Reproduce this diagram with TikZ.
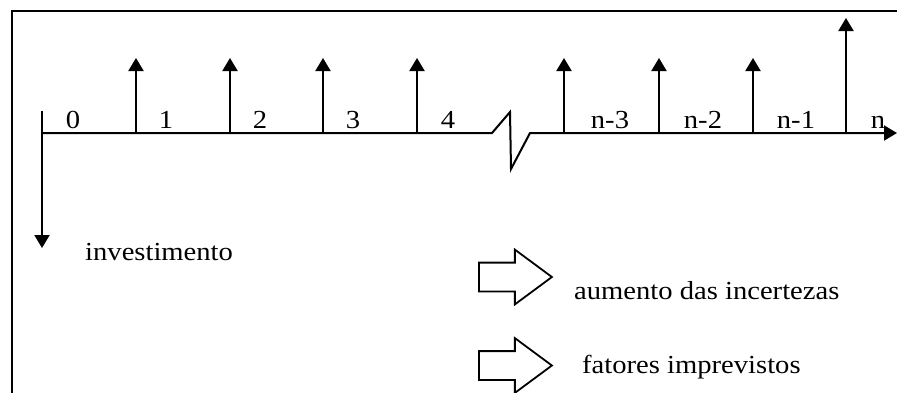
\documentclass[tikz,border=0pt]{standalone}
\usepackage{fontspec}
\setmainfont{Liberation Serif}[FakeStretch=1.1]
\usetikzlibrary{arrows.meta,shapes.arrows}

\begin{document}
\begin{tikzpicture}[x=1pt, y=-1pt,
    lbl/.style={inner sep=0pt, anchor=base, font=\fontsize{26}{30}\selectfont},
    note/.style={inner sep=0pt, anchor=base west, font=\fontsize{26}{30}\selectfont},
    flow/.style={-{Triangle[length=13pt, width=15pt]}, line width=2pt},
    hollow/.style={draw, single arrow, line width=1.8pt, inner xsep=0pt,
                   inner ysep=13.5pt, minimum height=73pt,
                   single arrow head extend=13pt, single arrow tip angle=73}
]
\useasboundingbox (0,0) rectangle (897,392);
\clip (0,0) rectangle (897,392);

% Frame
\draw[line width=1.6pt] (900,11) -- (12,11) -- (12,395);

% Time line
\coordinate (t0) at (42,133);
\coordinate (t1) at (136,133);
\coordinate (t2) at (230,133);
\coordinate (t3) at (323,133);
\coordinate (t4) at (417,133);
\coordinate (tn3) at (564,133);
\coordinate (tn2) at (659,133);
\coordinate (tn1) at (753,133);
\coordinate (tn) at (846,133);
\coordinate (brkA) at (492,133);
\coordinate (brkB) at (510,112);
\coordinate (brkC) at (511,169);
\coordinate (brkD) at (530,133);
\coordinate (tend) at (897,133);

\draw[flow] (t0) -- (brkA) -- (brkB) -- (brkC) -- (brkD) -- (tend);
\draw[line width=2pt] (t0) -- ++(0,-22);

% Cash flows
\coordinate (inv) at (42,248);
\coordinate (c1) at (136,58);
\coordinate (c2) at (230,58);
\coordinate (c3) at (323,58);
\coordinate (c4) at (417,58);
\coordinate (cn3) at (564,58);
\coordinate (cn2) at (659,58);
\coordinate (cn1) at (753,58);
\coordinate (cn) at (846,18);

\draw[flow] (t0) -- (inv);
\draw[flow] (t1) -- (c1);
\draw[flow] (t2) -- (c2);
\draw[flow] (t3) -- (c3);
\draw[flow] (t4) -- (c4);
\draw[flow] (tn3) -- (cn3);
\draw[flow] (tn2) -- (cn2);
\draw[flow] (tn1) -- (cn1);
\draw[flow] (tn) -- (cn);

% Period labels
\node[lbl] (p0) at (73,128) {0};
\node[lbl] (p1) at (166,128) {1};
\node[lbl] (p2) at (260,128) {2};
\node[lbl] (p3) at (353,128) {3};
\node[lbl] (p4) at (448,128) {4};
\node[lbl] (pn3) at (610,128) {n-3};
\node[lbl] (pn2) at (703,128) {n-2};
\node[lbl] (pn1) at (796,128) {n-1};
\node[lbl] (pn) at (878,128) {n};

\node[note] (invest) at (85,260) {investimento};

% Legend
\node[hollow, anchor=tail] (arrA) at (478,277) {};
\node[hollow, anchor=tail] (arrB) at (478,365.5) {};
\node[note] (incert) at (574,299) {aumento das incertezas};
\node[note] (fator) at (582,373) {fatores imprevistos};

\end{tikzpicture}
\end{document}
